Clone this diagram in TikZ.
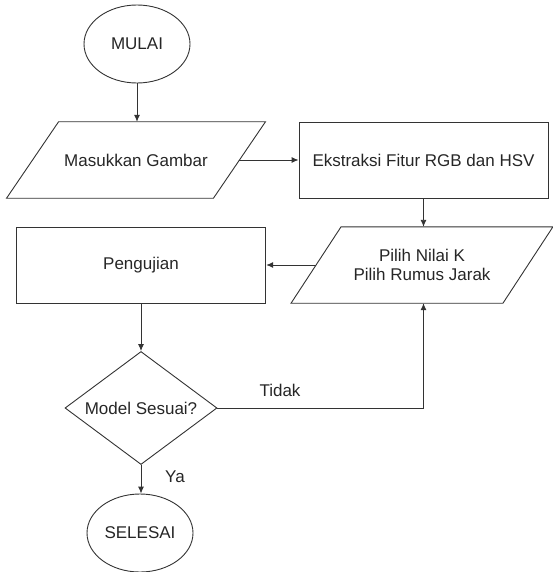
\documentclass[tikz,border=0pt]{standalone}
\usepackage{fontspec}
\setmainfont{Liberation Sans}
\usetikzlibrary{shapes.geometric,arrows.meta}
\begin{document}
\begin{tikzpicture}[x=1pt,y=-1pt,
  line/.style={draw=black!80, line width=0.9pt},
  arr/.style={line, -{Latex[length=7pt,width=6pt]}},
  txt/.style={font=\fontsize{17pt}{19.5pt}\selectfont, text=black!85},
  term/.style={ellipse, line, txt, minimum width=106pt, minimum height=78pt, inner sep=0pt},
  proc/.style={rectangle, line, txt, inner sep=0pt, minimum height=76pt},
  iobox/.style={rectangle, txt, inner sep=0pt, align=center, minimum height=76pt},
  decis/.style={diamond, line, txt, inner sep=0pt, minimum width=152pt, minimum height=113pt},
  lbl/.style={txt}
]
\useasboundingbox (0,0) rectangle (552,572);
\node[term] (mulai) at (137,44) {MULAI};
\node[iobox, minimum width=206.5pt] (masuk) at (136,160) {Masukkan Gambar};
\draw[line] ([xshift=-26pt]masuk.south west) -- ([xshift=26pt]masuk.north west) -- ([xshift=26pt]masuk.north east) -- ([xshift=-26pt]masuk.south east) -- cycle;
\node[proc, minimum width=249pt] (ekstr) at (423.5,160) {Ekstraksi Fitur RGB dan HSV};
\node[iobox, minimum width=211.5pt] (pilih) at (422,265) {Pilih Nilai K\\Pilih Rumus Jarak};
\draw[line] ([xshift=-25pt]pilih.south west) -- ([xshift=25pt]pilih.north west) -- ([xshift=25pt]pilih.north east) -- ([xshift=-25pt]pilih.south east) -- cycle;
\node[proc, minimum width=249.5pt] (uji) at (141,265) {Pengujian};
\node[decis] (dec) at (141,408) {\raisebox{-0.36em}[0pt][0pt]{Model Sesuai?}};
\node[term] (selesai) at (140,533) {SELESAI};
\node[lbl] (tidak) at (280,390) {Tidak};
\node[lbl] (ya) at (175,477) {Ya};
\draw[arr] (mulai) -- (mulai |- masuk.north);
\draw[arr] (masuk.east) -- (ekstr.west);
\draw[arr] (ekstr.south) -- (ekstr.south |- pilih.north);
\draw[arr] (pilih.west) -- (uji.east);
\draw[arr] (uji.south) -- (dec.north);
\draw[arr] (dec.east) -- (dec.east -| ekstr.south) -- (ekstr.south |- pilih.south);
\draw[arr] (dec.south) -- (dec.south |- selesai.north);
\end{tikzpicture}
\end{document}
